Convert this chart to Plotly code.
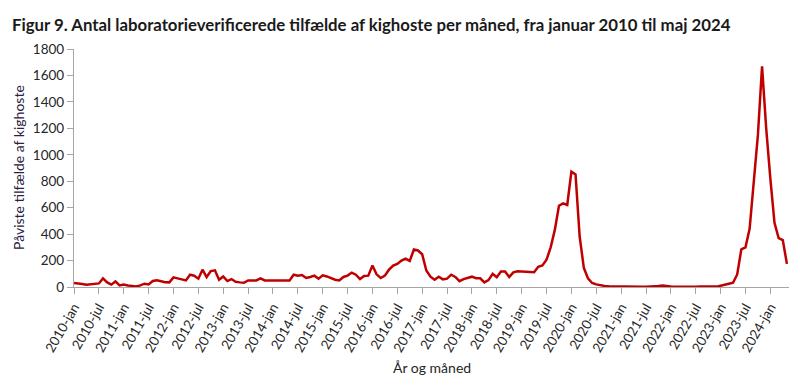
import plotly.graph_objects as go

years = list(range(2010, 2025))
month_names = ["jan", "feb", "mar", "apr", "maj", "jun", "jul", "aug", "sep", "okt", "nov", "dec"]

# Monthly counts, January 2010 - May 2024
v2010 = [30, 28, 22, 18, 22, 28, 27, 65, 35, 18, 42, 12]
v2011 = [18, 12, 10, 4, 12, 25, 20, 45, 50, 42, 36, 35]
v2012 = [73, 65, 60, 50, 93, 85, 63, 131, 75, 120, 126, 55]
v2013 = [80, 45, 60, 40, 35, 32, 50, 50, 50, 65, 50, 50]
v2014 = [50, 50, 50, 50, 50, 93, 86, 91, 68, 76, 86, 63]
v2015 = [88, 80, 66, 55, 50, 76, 86, 109, 93, 60, 83, 86]
v2016 = [162, 96, 68, 86, 131, 162, 175, 200, 215, 197, 283, 276]
v2017 = [248, 125, 78, 55, 78, 58, 63, 93, 76, 44, 60, 68]
v2018 = [78, 66, 66, 35, 52, 100, 74, 117, 117, 76, 111, 119]
v2019 = [117, 112, 112, 112, 153, 163, 206, 300, 432, 615, 633, 620]
v2020 = [872, 852, 380, 145, 65, 30, 20, 13, 8, 5, 4, 3]
v2021 = [2, 2, 2, 2, 3, 2, 2, 3, 5, 8, 12, 6]
v2022 = [3, 2, 1, 1, 1, 1, 2, 3, 2, 3, 2, 3]
v2023 = [10, 15, 25, 32, 95, 285, 300, 440, 820, 1150, 1668, 1200]
v2024 = [820, 485, 370, 355, 175]

values = (v2010 + v2011 + v2012 + v2013 + v2014 + v2015 + v2016 + v2017
          + v2018 + v2019 + v2020 + v2021 + v2022 + v2023 + v2024)
labels = [f"{y}-{m}" for y in years for m in month_names][:len(values)]
idx = list(range(len(values)))

tick_idx = [i for i in idx if labels[i].endswith("-jan") or labels[i].endswith("-jul")]
tick_text = [labels[i] for i in tick_idx]

TITLE = "Figur 9. Antal laboratorieverificerede tilfælde af kighoste per måned, fra januar 2010 til maj 2024"

FONT = "Lato"
TXT = "#262626"

fig = go.Figure()
fig.add_trace(go.Scatter(
    x=idx, y=values, mode="lines",
    line=dict(color="#C00000", width=2.5),
    hoverinfo="skip", showlegend=False,
))

# page body has an 8px margin, so the figure is 8px smaller and margins shifted
fig.update_layout(
    width=792, height=377,
    margin=dict(l=66, r=11, t=41, b=98, autoexpand=False),
    paper_bgcolor="white", plot_bgcolor="white",
    font=dict(family=FONT, color=TXT, size=13),
    showlegend=False,
)

fig.update_xaxes(
    range=[0, 172.5],
    tickmode="array", tickvals=tick_idx, ticktext=tick_text,
    tickangle=-60,
    ticks="outside", ticklen=6, tickcolor="#A6A6A6", tickwidth=1,
    showline=True, linecolor="#A6A6A6", linewidth=1.3,
    showgrid=False, zeroline=False, automargin=False,
    tickfont=dict(family=FONT, size=13.5, color=TXT),
)
fig.update_yaxes(
    range=[0, 1800], dtick=200, tick0=0,
    ticks="outside", ticklen=6, tickcolor="#A6A6A6", tickwidth=1,
    showline=True, linecolor="#A6A6A6", linewidth=1.3,
    showgrid=False, zeroline=False, automargin=False,
    tickfont=dict(family=FONT, size=13.5, color=TXT),
)

fig.add_annotation(
    text=f"<b>{TITLE}</b>",
    xref="paper", yref="paper", x=-0.0895, y=1.155,
    xanchor="left", yanchor="top", showarrow=False,
    font=dict(family=FONT, size=16.8, color="#1a1a1a"),
)
fig.add_annotation(
    text="Påviste tilfælde af kighoste", textangle=-90,
    xref="paper", yref="paper", x=-0.0783, y=0.5,
    xanchor="center", yanchor="middle", showarrow=False,
    font=dict(family=FONT, size=14, color="#2a2040"),
)
fig.add_annotation(
    text="År og måned",
    xref="paper", yref="paper", x=0.5, y=-0.338,
    xanchor="center", yanchor="middle", showarrow=False,
    font=dict(family=FONT, size=14, color=TXT),
)

fig.write_html("out.html")
